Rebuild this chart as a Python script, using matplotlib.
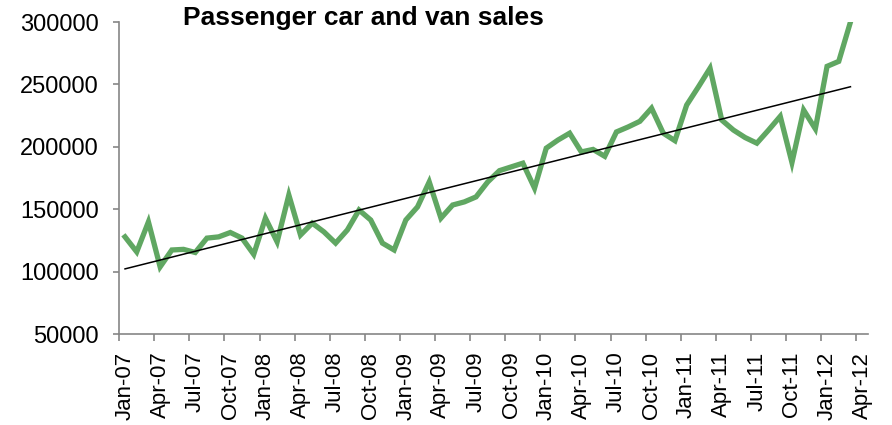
import numpy as np
import pandas as pd
import matplotlib
matplotlib.use("Agg")
import matplotlib.pyplot as plt

plt.rcParams["font.family"] = ["Liberation Sans", "DejaVu Sans"]

# monthly sales, Jan-07 .. Mar-12
sales = [128000, 116000, 140000, 104000, 117500, 118000, 115500, 127000, 128000, 131500,
         127000, 114000, 143000, 124000, 161500, 129500, 139000, 132000, 123000, 133500,
         149500, 141500, 123000, 117500, 141500, 152000, 172000, 143000, 153500, 156000,
         160000, 172000, 181000, 184000, 187000, 167000, 199000, 205500, 211000, 196000,
         198000, 192500, 212000, 216000, 220500, 231000, 211000, 205000, 233500, 248000,
         263000, 221500, 213500, 207500, 203000, 213500, 224500, 187500, 229500, 214500,
         264500, 268500, 300000]
months = pd.date_range("2007-01-01", periods=64, freq="MS").strftime("%b-%y").tolist()
yticks = [50000, 100000, 150000, 200000, 250000, 300000]

x = np.arange(len(sales))
slope, icpt = np.polyfit(x, sales, 1)
trend = slope * x + icpt

fig = plt.figure(figsize=(8.92, 4.25), dpi=100)
ax = fig.add_axes([0.1336, 0.2134, 0.9731 - 0.1336, 0.9482 - 0.2134])

ax.plot(x, sales, color="#60A762", linewidth=3.8, solid_joinstyle="miter", zorder=2)
ax.plot(x, trend, color="black", linewidth=1.1, zorder=3)

ax.set_xlim(-0.5, len(months) - 0.5)
ax.set_ylim(50000, 300000)
ax.set_yticks(yticks)
ax.set_yticklabels([str(v) for v in yticks])

lab_pos = np.arange(0, len(months), 3)
ax.set_xticks(lab_pos)
ax.set_xticklabels([months[i] for i in lab_pos], rotation=90, va="top", ha="center")
ax.set_xticks(np.arange(-0.5, len(months), 3), minor=True)
ax.tick_params(axis="x", which="major", length=0, pad=12.5, labelsize=16)
ax.tick_params(axis="x", which="minor", length=5, width=1.2, color="#868686")
ax.tick_params(axis="y", length=4.5, width=1.2, color="#868686", pad=10, labelsize=17)

for s in ["top", "right"]:
    ax.spines[s].set_visible(False)
for s in ["left", "bottom"]:
    ax.spines[s].set_color("#868686")
    ax.spines[s].set_linewidth(1.2)

fig.text(183 / 892, 1 - 18 / 425, "Passenger car and van sales", fontsize=19,
         fontweight="bold", ha="left", va="center")

fig.savefig("out.png", dpi=100)
